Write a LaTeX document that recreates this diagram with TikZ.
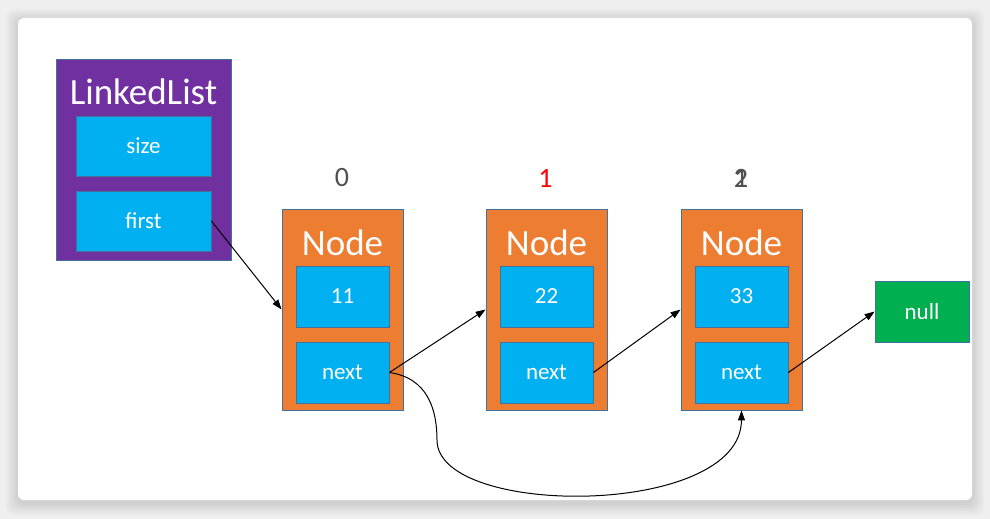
\documentclass[tikz,border=0pt]{standalone}
\usepackage{fontspec}
\setmainfont{Carlito}
\usetikzlibrary{arrows.meta}
\definecolor{llpurple}{HTML}{7030A0}
\definecolor{fieldblue}{HTML}{00B0F0}
\definecolor{nodeorange}{HTML}{ED7D31}
\definecolor{nullgreen}{HTML}{00B050}
\definecolor{edgeblue}{HTML}{41719C}
\definecolor{idxgray}{HTML}{505050}
\definecolor{pagegray}{HTML}{EFEFEF}
\tikzset{
  box/.style={draw=edgeblue, line width=0.8pt, rectangle, inner sep=0pt},
  outerbox/.style={box, minimum width=121pt, minimum height=201pt, fill=nodeorange},
  field/.style={box, fill=fieldblue, minimum width=93pt, minimum height=61pt,
    text=white, font=\fontsize{23}{23}\selectfont},
  title/.style={text=white, font=\fontsize{37}{37}\selectfont, inner sep=0pt},
  idx/.style={font=\fontsize{28}{28}\selectfont, inner sep=0pt},
  link/.style={line width=1pt, -{Triangle[length=10pt,width=7pt]}},
}
\begin{document}
\begin{tikzpicture}[x=1pt, y=-1pt]
  % page and card with a soft shadow
  \fill[pagegray] (0,0) rectangle (990,519);
  \useasboundingbox (0,0) rectangle (990,519);
  \foreach \s in {12,10,8,6,4,2}{
    \fill[black, opacity=0.018, rounded corners=8pt]
      (18-\s,18-\s+3) rectangle (972+\s,500+\s+3);
  }
  \fill[white, rounded corners=6pt] (18,18) rectangle (972,500);

  % LinkedList object
  \node[box, fill=llpurple, minimum width=175pt, minimum height=201pt] (ll) at (143.5,159.5) {};
  \node[title] (lltitle) at (143.5,92) {LinkedList};
  \node[field, minimum width=135pt, minimum height=60pt] (size) at (143.5,146) {size};
  \node[field, minimum width=135pt, minimum height=60pt] (first) at (143.5,221) {first};

  % list nodes
  \node[outerbox] (n0) at (342.5,309.5) {};
  \node[title] (n0title) at (342.5,243) {Node};
  \node[field] (n0val) at (342.5,296.5) {11};
  \node[field] (n0next) at (342.5,372.5) {next};

  \node[outerbox] (n1) at (546.5,309.5) {};
  \node[title] (n1title) at (546.5,243) {Node};
  \node[field] (n1val) at (546.5,296.5) {22};
  \node[field] (n1next) at (546.5,372.5) {next};

  \node[outerbox] (n2) at (741.5,309.5) {};
  \node[title] (n2title) at (741.5,243) {Node};
  \node[field] (n2val) at (741.5,296.5) {33};
  \node[field] (n2next) at (741.5,372.5) {next};

  \node[box, fill=nullgreen, minimum width=94pt, minimum height=61pt,
        text=white, font=\fontsize{23}{23}\selectfont] (null) at (922,311.5) {null};

  % indices
  \node[idx, text=idxgray] (i0) at (342,178) {0};
  \node[idx, text=red] (i1) at (545.5,178) {1};
  \node[idx, text=idxgray] (i2a) at (741,178) {1};
  \node[idx, text=idxgray] (i2b) at (741,178) {2};

  % references
  \draw[link] (first.east) -- (n0.west);
  \draw[link] (n0next.east) -- (n1.west);
  \draw[link] (n1next.east) -- (n2.west);
  \draw[link] (n2next.east) -- (null.west);
  \draw[link] (n0next.east) .. controls (428,378) and (437,410) .. (437,440)
        .. controls (437,518) and (741,518) .. (n2.south);
\end{tikzpicture}
\end{document}
